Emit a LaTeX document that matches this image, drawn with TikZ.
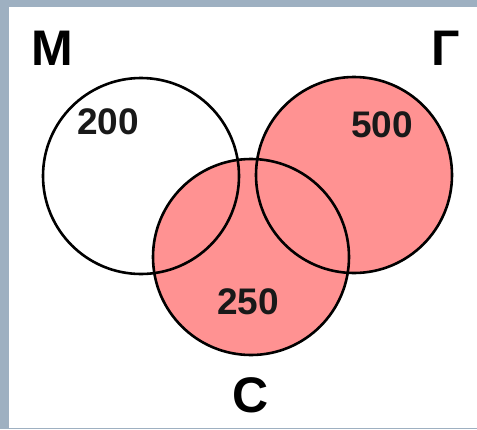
\documentclass[tikz,border=0pt]{standalone}
\usepackage{fontspec}
\setmainfont{Liberation Sans}
\usetikzlibrary{positioning}

\definecolor{slideband}{RGB}{158,176,193}
\definecolor{setpink}{RGB}{255,146,146}

\begin{document}
\begin{tikzpicture}[
  x=1pt, y=-1pt,
  setdisc/.style={circle, minimum size=196pt, inner sep=0pt},
  ring/.style={setdisc, draw=black, line width=2.6pt},
  setname/.style={font=\fontsize{50}{50}\selectfont\bfseries, text=black},
  count/.style={font=\fontsize{37}{37}\selectfont\bfseries, text=black!90}
]

% === Slide background ===
\fill[slideband] (0,0) rectangle (477,429);
\fill[white] (9,7) rectangle (477,428);

% === Set fills ===
\node[setdisc, fill=white] (setM) at (141,176) {};
\node[setdisc, fill=setpink] (setG) at (354,175) {};
\node[setdisc, fill=setpink] (setC) at (251,257) {};

% === Set outlines ===
\node[ring] (ringM) at (setM) {};
\node[ring] (ringG) at (setG) {};
\node[ring] (ringC) at (setC) {};

% === Set names ===
\node[setname] (nameM) at (52,48) {М};
\node[setname] (nameG) at (446,48) {Г};
\node[setname] (nameC) at (251,395) {С};

% === Counts ===
\node[count] (numM) at (108,122) {200};
\node[count] (numG) at (382,125) {500};
\node[count] (numC) at (248,302) {250};

\end{tikzpicture}
\end{document}
